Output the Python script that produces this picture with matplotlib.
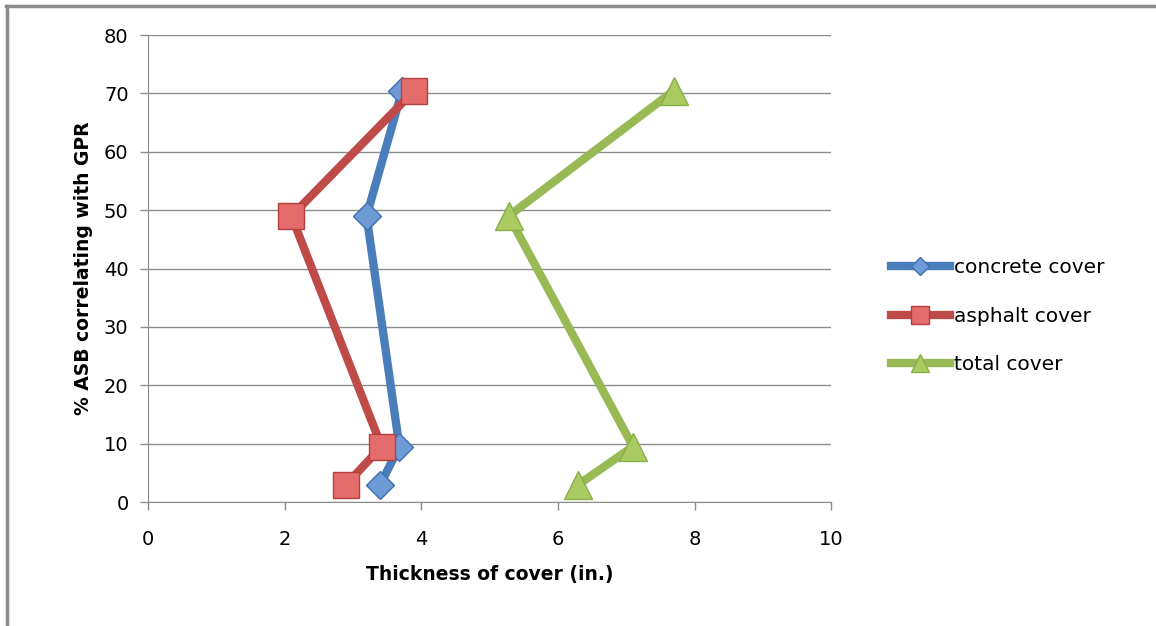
import matplotlib.pyplot as plt
from matplotlib.lines import Line2D

# data
pct_asb = [3, 9.5, 49, 70.5]
concrete = [3.4, 3.68, 3.2, 3.72]
asphalt = [2.9, 3.42, 2.1, 3.9]
total = [6.3, 7.1, 5.28, 7.7]
series_names = ["concrete cover", "asphalt cover", "total cover"]

plt.rcParams['font.family'] = ['DejaVu Sans']

fig = plt.figure(figsize=(11.56, 6.26), dpi=100)
ax = fig.add_axes([0.128, 0.198, 0.591, 0.746])

ax.plot(concrete, pct_asb, color="#4A7EBB", lw=6, marker="D", ms=14,
        mfc="#6E9BD6", mec="#3E6FAE", mew=1, label=series_names[0], zorder=3)
ax.plot(asphalt, pct_asb, color="#BE4B48", lw=6, marker="s", ms=19,
        mfc="#E46C6A", mec="#B2403D", mew=1, label=series_names[1], zorder=4)
ax.plot(total, pct_asb, color="#98B954", lw=6, marker="^", ms=20,
        mfc="#A9CB62", mec="#8AAE48", mew=1, label=series_names[2], zorder=3)

ax.set_xlim(0, 10)
ax.set_ylim(0, 80)
ax.set_xticks(range(0, 11, 2))
ax.set_yticks(range(0, 81, 10))
ax.yaxis.grid(True, color="#8C8C8C", lw=1)
ax.set_axisbelow(True)
for s in ["top", "right"]:
    ax.spines[s].set_visible(False)
for s in ["left", "bottom"]:
    ax.spines[s].set_color("#8C8C8C")
ax.tick_params(axis="both", colors="#8C8C8C", labelcolor="black",
               labelsize=14, length=6, width=1, direction="out")
ax.tick_params(axis="x", pad=14)
ax.tick_params(axis="y", pad=8)

ax.set_xlabel("Thickness of cover (in.)", fontsize=13.5, fontweight="bold", labelpad=12)
ax.set_ylabel("% ASB correlating with GPR", fontsize=13.5, fontweight="bold", labelpad=8)

ax.legend(loc="center left", bbox_to_anchor=(0.771, 0.495), bbox_transform=fig.transFigure,
          frameon=False, fontsize=14.5, handlelength=2.9, handletextpad=0.2,
          labelspacing=1.45, markerscale=0.65, numpoints=1, borderpad=0, borderaxespad=0)

# outer frame lines (top and left visible)
fig.add_artist(Line2D([0.005, 1], [0.991, 0.991], transform=fig.transFigure, color="#8C8C8C", lw=2.5))
fig.add_artist(Line2D([0.006, 0.006], [0, 0.991], transform=fig.transFigure, color="#8C8C8C", lw=2.5))

fig.savefig("out.png", dpi=100)
